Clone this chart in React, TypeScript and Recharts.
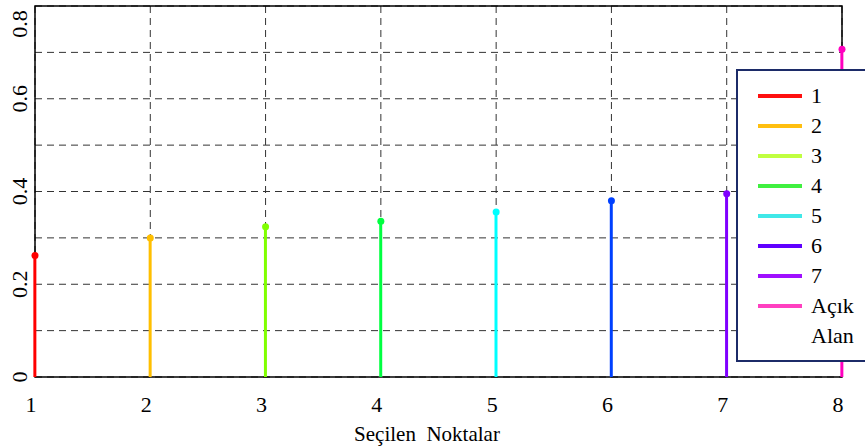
import {
  ComposedChart,
  Bar,
  Scatter,
  Cell,
  XAxis,
  YAxis,
  CartesianGrid,
  ReferenceArea,
} from "recharts";

const points = [1, 2, 3, 4, 5, 6, 7, 8];
const values = [0.262, 0.3, 0.324, 0.336, 0.356, 0.38, 0.395, 0.707];
const names = ["1", "2", "3", "4", "5", "6", "7", "Açık Alan"];
const stemColors = ["#ff0000", "#ffbf00", "#80ff00", "#00ff40", "#00ffff", "#0040ff", "#8000ff", "#ff00bf"];
const legendColors = ["#ff1010", "#ffbf10", "#c0ff40", "#40f040", "#40e8e8", "#6000ff", "#a010ff", "#ff40c0"];
const yTicks = [0, 0.1, 0.2, 0.3, 0.4, 0.5, 0.6, 0.7, 0.8];
const yLabels = [0, 0.2, 0.4, 0.6, 0.8];

const data = points.map((x, i) => ({ x, value: values[i], name: names[i] }));

const FONT = "'Liberation Serif', 'Times New Roman', 'DejaVu Serif', serif";

function XTick({ x, payload }: any) {
  return (
    <text x={x - 4} y={412} textAnchor="middle" style={{ fontFamily: FONT, fontSize: 22 }} fill="#000">
      {payload.value}
    </text>
  );
}

function YTick({ y, payload }: any) {
  if (!yLabels.includes(Math.round(payload.value * 10) / 10)) return null;
  const cy = Math.max(y, 24);
  const label = payload.value === 0 ? "0" : payload.value.toFixed(1);
  return (
    <text
      x={19}
      y={cy}
      transform={`rotate(-90 19 ${cy})`}
      textAnchor="middle"
      dominantBaseline="central"
      style={{ fontFamily: FONT, fontSize: 22 }}
      fill="#000"
    >
      {label}
    </text>
  );
}

function AxisTitle() {
  return (
    <text x={427} y={441} textAnchor="middle" style={{ fontFamily: FONT, fontSize: 21, whiteSpace: "pre" }} fill="#000">
      {"Seçilen  Noktalar"}
    </text>
  );
}

function LegendBox() {
  return (
    <div
      style={{
        position: "absolute",
        left: 736,
        top: 69,
        width: 140,
        height: 293,
        border: "2px solid #1c2b68",
        background: "#fff",
        paddingTop: 10,
        boxSizing: "border-box",
        fontFamily: FONT,
        fontSize: 22,
        color: "#000",
      }}
    >
      {names.map((n, i) => (
        <div key={n} style={{ display: "flex", alignItems: "flex-start", height: 30 }}>
          <div style={{ width: 44, height: 4, background: legendColors[i], marginLeft: 20, marginTop: 13 }} />
          <span style={{ marginLeft: 9, width: 50, lineHeight: "30px" }}>{n}</span>
        </div>
      ))}
    </div>
  );
}

export default function App() {
  return (
    <div style={{ position: "absolute", left: 0, top: 0, width: 865, height: 446, background: "#fff" }}>
      <ComposedChart width={865} height={446} data={data} margin={{ top: 6, right: 23, left: 0, bottom: 0 }}>
        <CartesianGrid stroke="#333" strokeDasharray="7 5" strokeWidth={1} />
        <XAxis
          dataKey="x"
          type="number"
          domain={[1, 8]}
          ticks={points}
          height={69}
          tickLine={false}
          axisLine={false}
          tick={<XTick />}
          label={<AxisTitle />}
        />
        <YAxis
          type="number"
          domain={[0, 0.8]}
          ticks={yTicks}
          width={35}
          tickLine={false}
          axisLine={false}
          tick={<YTick />}
        />
        <ReferenceArea x1={1} x2={8} y1={0} y2={0.8} fill="none" stroke="#000" strokeWidth={1.5} ifOverflow="visible" />
        <Bar dataKey="value" barSize={3} isAnimationActive={false}>
          {data.map((d, i) => (
            <Cell key={d.name} fill={stemColors[i]} />
          ))}
        </Bar>
        <Scatter
          dataKey="value"
          isAnimationActive={false}
          shape={(p: any) => <circle cx={p.cx} cy={p.cy} r={3.5} fill={p.fill} />}
        >
          {data.map((d, i) => (
            <Cell key={d.name} fill={stemColors[i]} />
          ))}
        </Scatter>
      </ComposedChart>
      <LegendBox />
    </div>
  );
}
